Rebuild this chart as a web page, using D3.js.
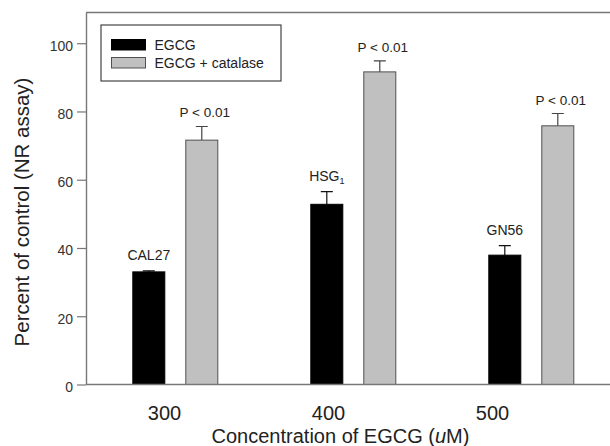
<!DOCTYPE html>
<html>
<head>
<meta charset="utf-8">
<script src="https://cdn.jsdelivr.net/npm/d3@7"></script>
<style>
  html, body { margin: 0; padding: 0; background: #fff; }
  svg text { font-family: "Liberation Sans", Arial, sans-serif; fill: #222; }
</style>
</head>
<body>
<div id="app"></div>
<script>
const concentrations = ["300", "400", "500"];
const series = ["EGCG", "EGCG + catalase"];
const egcgValues = [33, 52.8, 37.9];
const egcgErrors = [0.3, 3.7, 2.8];
const catalaseValues = [71.6, 91.6, 75.8];
const catalaseErrors = [4.0, 3.2, 3.6];
const cellLineNames = ["CAL27", "HSG", "GN56"];
const cellLineSubs = ["", "1", ""];
const pLabels = ["P < 0.01", "P < 0.01", "P < 0.01"];
const yTicks = [0, 20, 40, 60, 80, 100];

const full = { width: 610, height: 446 };
const plot = { left: 86, right: 620, top: 12.5, bottom: 384.5 };
const colors = { "EGCG": "#000000", "EGCG + catalase": "#c0c0c0" };
const axisColor = "#777";

const svg = d3.select("#app")
  .append("svg")
  .attr("width", full.width)
  .attr("height", full.height);

const y = d3.scaleLinear()
  .domain([0, 109])
  .range([plot.bottom, plot.top]);

const x0 = d3.scaleBand()
  .domain(concentrations)
  .range([plot.left + 0.3, plot.left + 0.3 + 3 * 178])
  .paddingInner(0.5225)
  .paddingOuter(0.26125);

const x1 = d3.scaleBand()
  .domain(series)
  .range([0, x0.bandwidth()])
  .paddingInner(0.396);

// tick labels in the figure are placed on their own spacing, not under the groups
const xLabel = d3.scalePoint()
  .domain(concentrations)
  .range([164, 492]);

const rows = concentrations.map((c, i) => ({
  conc: c,
  bars: [
    { key: series[0], value: egcgValues[i], err: egcgErrors[i] },
    { key: series[1], value: catalaseValues[i], err: catalaseErrors[i] }
  ],
  cell: cellLineNames[i],
  sub: cellLineSubs[i],
  p: pLabels[i]
}));

// frame
svg.append("line")
  .attr("x1", plot.left).attr("x2", full.width + 10)
  .attr("y1", plot.top).attr("y2", plot.top)
  .attr("stroke", axisColor).attr("stroke-width", 1.4);

// bars
const groups = svg.selectAll(".group")
  .data(rows)
  .join("g")
  .attr("class", "group")
  .attr("transform", d => `translate(${x0(d.conc)},0)`);

groups.selectAll(".err")
  .data(d => d.bars)
  .join("path")
  .attr("class", "err")
  .attr("fill", "none")
  .attr("stroke", d => d.key === series[0] ? "#111" : "#444")
  .attr("stroke-width", 1.2)
  .attr("d", d => {
    const cx = x1(d.key) + x1.bandwidth() / 2;
    const top = y(d.value + d.err);
    return `M${cx},${y(d.value)}V${top}M${cx - 6},${top}H${cx + 6}`;
  });

groups.selectAll(".bar")
  .data(d => d.bars)
  .join("rect")
  .attr("class", "bar")
  .attr("x", d => x1(d.key))
  .attr("y", d => y(d.value))
  .attr("width", x1.bandwidth())
  .attr("height", d => y(0) - y(d.value))
  .attr("fill", d => colors[d.key])
  .attr("stroke", d => d.key === series[0] ? "#000" : "#505050")
  .attr("stroke-width", 1);

// P labels above catalase bars
groups.append("text")
  .attr("x", x1(series[1]) + x1.bandwidth() / 2 + 3)
  .attr("y", d => y(d.bars[1].value + d.bars[1].err) - 9)
  .attr("text-anchor", "middle")
  .style("font-size", "13.5px")
  .text(d => d.p);

// cell line labels above EGCG bars
const cellText = groups.append("text")
  .attr("x", x1(series[0]) + x1.bandwidth() / 2)
  .attr("y", d => y(d.bars[0].value + d.bars[0].err) - 11)
  .attr("text-anchor", "middle")
  .style("font-size", "14px");
cellText.append("tspan").text(d => d.cell);
cellText.append("tspan")
  .attr("dy", 3)
  .style("font-size", "9px")
  .text(d => d.sub);

// y axis
const yAxis = svg.append("g")
  .attr("transform", `translate(${plot.left},0)`)
  .call(d3.axisLeft(y).tickValues(yTicks).tickSize(9).tickPadding(4).tickSizeOuter(0));
yAxis.select(".domain").attr("stroke", axisColor).attr("stroke-width", 1.4);
yAxis.selectAll(".tick line").attr("stroke", axisColor).attr("stroke-width", 1.2);
yAxis.selectAll(".tick text")
  .attr("dy", "0.5em")
  .style("font-size", "14px")
  .style("fill", "#333");

// x axis baseline
svg.append("line")
  .attr("x1", plot.left).attr("x2", full.width + 10)
  .attr("y1", plot.bottom).attr("y2", plot.bottom)
  .attr("stroke", axisColor).attr("stroke-width", 1.4);

const xAxis = svg.append("g")
  .attr("transform", `translate(0,${plot.bottom})`)
  .call(d3.axisBottom(xLabel).tickSize(0).tickPadding(21));
xAxis.select(".domain").remove();
xAxis.selectAll(".tick text").style("font-size", "20px");

// axis titles
svg.append("text")
  .attr("transform", "translate(28.5,212) rotate(-90)")
  .attr("text-anchor", "middle")
  .style("font-size", "20.5px")
  .text("Percent of control (NR assay)");

const xTitle = svg.append("text")
  .attr("x", 340.5)
  .attr("y", 443)
  .attr("text-anchor", "middle")
  .style("font-size", "20px");
xTitle.append("tspan").text("Concentration of EGCG (");
xTitle.append("tspan").style("font-style", "italic").text("u");
xTitle.append("tspan").text("M)");

// legend
const legend = svg.append("g").attr("transform", "translate(101,25)");
legend.append("rect")
  .attr("width", 180).attr("height", 56)
  .attr("fill", "#fff")
  .attr("stroke", "#444").attr("stroke-width", 1.2);

const items = legend.selectAll(".item")
  .data(series)
  .join("g")
  .attr("class", "item")
  .attr("transform", (d, i) => `translate(10.5,${14.5 + i * 18})`);
items.append("rect")
  .attr("width", 34).attr("height", 10.5)
  .attr("fill", d => colors[d])
  .attr("stroke", d => d === series[0] ? "#000" : "#505050");
items.append("text")
  .attr("x", 43)
  .attr("y", 10.5)
  .style("font-size", "14px")
  .text(d => d);
</script>
</body>
</html>
